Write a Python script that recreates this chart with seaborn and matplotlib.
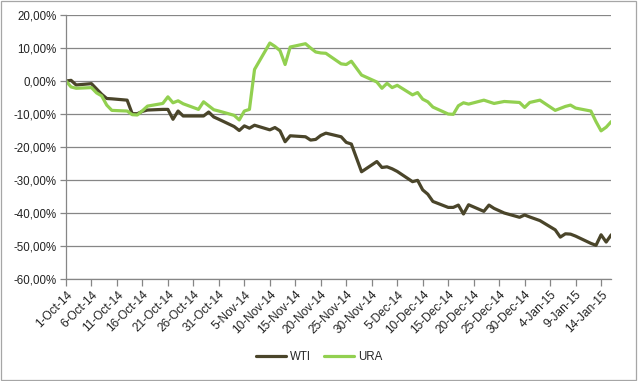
import pandas as pd
import matplotlib
matplotlib.use("Agg")
import matplotlib.pyplot as plt
import matplotlib.dates as mdates
from matplotlib.patches import Rectangle
from matplotlib.ticker import FuncFormatter
import seaborn as sns

# trading days, 1-Oct-14 .. 16-Jan-15
dates = [
    "2014-10-01", "2014-10-02", "2014-10-03", "2014-10-06", "2014-10-07", "2014-10-08",
    "2014-10-09", "2014-10-10", "2014-10-13", "2014-10-14", "2014-10-15", "2014-10-16",
    "2014-10-17", "2014-10-20", "2014-10-21", "2014-10-22", "2014-10-23", "2014-10-24",
    "2014-10-27", "2014-10-28", "2014-10-29", "2014-10-30", "2014-10-31",
    "2014-11-03", "2014-11-04", "2014-11-05", "2014-11-06", "2014-11-07", "2014-11-10",
    "2014-11-11", "2014-11-12", "2014-11-13", "2014-11-14", "2014-11-17", "2014-11-18",
    "2014-11-19", "2014-11-20", "2014-11-21", "2014-11-24", "2014-11-25", "2014-11-26",
    "2014-11-28",
    "2014-12-01", "2014-12-02", "2014-12-03", "2014-12-04", "2014-12-05", "2014-12-08",
    "2014-12-09", "2014-12-10", "2014-12-11", "2014-12-12", "2014-12-15", "2014-12-16",
    "2014-12-17", "2014-12-18", "2014-12-19", "2014-12-22", "2014-12-23", "2014-12-24",
    "2014-12-26", "2014-12-29", "2014-12-30", "2014-12-31",
    "2015-01-02", "2015-01-05", "2015-01-06", "2015-01-07", "2015-01-08", "2015-01-09",
    "2015-01-12", "2015-01-13", "2015-01-14", "2015-01-15", "2015-01-16",
]

# cumulative change in %
wti = [
    0.0, 0.2, -1.2, -0.8, -2.4, -4.0, -5.3, -5.4, -5.8, -9.9, -9.9, -9.2,
    -8.8, -8.6, -8.6, -11.6, -9.1, -10.6, -10.6, -10.6, -9.4, -10.9, -11.6,
    -13.8, -15.0, -13.6, -14.3, -13.4, -14.8, -14.1, -15.1, -18.4, -16.6, -16.9, -17.9,
    -17.7, -16.5, -15.8, -16.9, -18.6, -19.1, -27.5,
    -24.4, -26.2, -26.0, -26.6, -27.4, -30.5, -30.1, -33.0, -34.3, -36.5, -38.3, -38.3,
    -37.6, -40.3, -37.5, -39.5, -37.6, -38.6, -40.0, -41.3, -40.6, -41.2,
    -42.3, -45.1, -47.3, -46.3, -46.4, -47.0, -49.2, -49.8, -46.6, -48.8, -46.6,
]
ura = [
    0.0, -1.8, -2.2, -2.0, -3.6, -4.5, -7.3, -8.9, -9.1, -10.2, -10.3, -9.0,
    -7.6, -6.8, -4.8, -6.6, -6.0, -6.9, -8.6, -6.3, -7.5, -8.7, -9.1,
    -10.4, -11.8, -9.1, -8.6, 3.5, 11.5, 10.5, 9.2, 5.0, 10.3, 11.3, 10.0,
    8.8, 8.5, 8.4, 5.2, 5.0, 6.0, 1.8,
    -0.3, -2.2, -0.7, -2.0, -1.3, -4.2, -3.5, -5.5, -6.3, -7.9, -10.0, -10.1,
    -7.5, -6.6, -7.0, -5.8, -6.3, -6.8, -6.2, -6.5, -8.0, -6.5,
    -5.8, -8.9, -8.3, -7.7, -7.3, -8.2, -9.1, -12.3, -15.1, -14.0, -12.3,
]

tick_dates = pd.date_range("2014-10-01", "2015-01-14", freq="5D")
y_ticks = [-60, -50, -40, -30, -20, -10, 0, 10, 20]

df = pd.DataFrame({"date": pd.to_datetime(dates), "WTI": wti, "URA": ura})

sns.set_style("white")
plt.rcParams["font.family"] = ["Liberation Sans", "DejaVu Sans"]
plt.rcParams["font.size"] = 8

fig = plt.figure(figsize=(6.38, 3.81), dpi=100)
ax = fig.add_axes([0.1034, 0.2677, 0.8547, 0.6929])

grid_c = "#868686"
sns.lineplot(data=df, x="date", y="WTI", ax=ax, color="#4A452A", linewidth=2.3, label="WTI")
sns.lineplot(data=df, x="date", y="URA", ax=ax, color="#92D050", linewidth=2.3, label="URA")

ax.set_xlim(pd.Timestamp("2014-10-01"), pd.Timestamp("2015-01-16"))
ax.set_ylim(-60, 20)
ax.set_yticks(y_ticks)
ax.yaxis.set_major_formatter(FuncFormatter(lambda v, p: f"{v:.2f}%".replace(".", ",")))
ax.set_xticks(tick_dates)
ax.xaxis.set_major_formatter(FuncFormatter(
    lambda v, p: f"{mdates.num2date(v).day}-{mdates.num2date(v).strftime('%b-%y')}"))
plt.setp(ax.get_xticklabels(), rotation=45, ha="right", rotation_mode="anchor",
         fontsize=8.6)

ax.grid(axis="y", color=grid_c, linewidth=0.9)
ax.set_axisbelow(True)
for s in ["top", "right"]:
    ax.spines[s].set_visible(False)
for s in ["left", "bottom"]:
    ax.spines[s].set_color(grid_c)
    ax.spines[s].set_linewidth(0.9)
ax.tick_params(axis="both", direction="out", length=4, width=0.9, color=grid_c,
               labelcolor="#222222", pad=2)
ax.tick_params(axis="y", left=True, labelsize=8.3, pad=3)
ax.tick_params(axis="x", bottom=True, length=5)
ax.set_xlabel("")
ax.set_ylabel("")

handles, labels = ax.get_legend_handles_labels()
ax.get_legend().remove()
fig.legend(handles, labels, loc="center", bbox_to_anchor=(0.5, 0.064), ncol=2,
           frameon=False, fontsize=8.3, handlelength=2.6, columnspacing=1.2,
           handletextpad=0.3)

fig.patches.append(Rectangle((0.002, 0.003), 0.995, 0.994, transform=fig.transFigure,
                             fill=False, edgecolor="#A6A6A6", linewidth=0.9))

fig.savefig("out.png", dpi=100)
